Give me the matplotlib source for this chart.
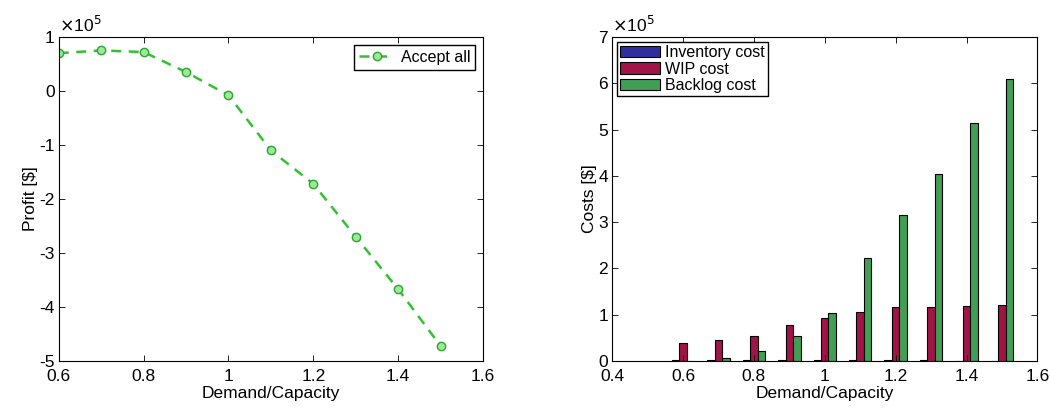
import numpy as np
import matplotlib
matplotlib.use('Agg')
import matplotlib.pyplot as plt
from matplotlib.ticker import FuncFormatter

plt.rcParams['font.family'] = ['Liberation Sans', 'DejaVu Sans']
plt.rcParams['font.size'] = 12.5
plt.rcParams['axes.unicode_minus'] = False

# Data (costs / profit in $)
ratio = [0.6, 0.7, 0.8, 0.9, 1.0, 1.1, 1.2, 1.3, 1.4, 1.5]
profit = [0.70e5, 0.75e5, 0.72e5, 0.35e5, -0.08e5, -1.10e5, -1.72e5, -2.70e5, -3.67e5, -4.72e5]
inventory_cost = [0.025e5, 0.025e5, 0.03e5, 0.03e5, 0.025e5, 0.02e5, 0.015e5, 0.015e5, 0.01e5, 0.01e5]
wip_cost = [0.38e5, 0.45e5, 0.55e5, 0.77e5, 0.93e5, 1.07e5, 1.17e5, 1.16e5, 1.19e5, 1.21e5]
backlog_cost = [0.01e5, 0.07e5, 0.22e5, 0.55e5, 1.03e5, 2.22e5, 3.15e5, 4.05e5, 5.15e5, 6.10e5]

fig = plt.figure(figsize=(10.5, 4.15), dpi=100)

def style_axes(ax):
    ax.tick_params(direction='in', top=True, right=True, length=4, width=0.6)
    ax.tick_params(axis='x', pad=6)
    ax.tick_params(axis='y', pad=3)
    for s in ax.spines.values():
        s.set_linewidth(0.8)
    # MATLAB-style exponent label
    ax.yaxis.set_major_formatter(FuncFormatter(lambda v, p: f'{v / 1e5:g}'))
    ax.text(0.0, 1.005, r'$\times$10$^5$', transform=ax.transAxes, ha='left', va='bottom',
            fontsize=12.5)

# Left: profit
ax1 = fig.add_axes([0.056, 0.13, 0.404, 0.781])
ax1.plot(ratio, profit, linestyle='--', color='#33c033', linewidth=1.8, marker='o',
         markersize=6, markerfacecolor='#9be89b', markeredgecolor='#2aa82a',
         dashes=(4, 3), label='Accept all')
ax1.set_xlim(0.6, 1.6)
ax1.set_ylim(-5e5, 1e5)
ax1.set_xticks([0.6, 0.8, 1.0, 1.2, 1.4, 1.6])
ax1.set_xticklabels(['0.6', '0.8', '1', '1.2', '1.4', '1.6'])
style_axes(ax1)
ax1.set_xlabel('Demand/Capacity', labelpad=1)
ax1.set_ylabel('Profit [$]', labelpad=1)
ax1.legend(loc='upper right', fancybox=False, edgecolor='black', framealpha=1,
           handlelength=2.2, borderpad=0.3, handletextpad=0.4, fontsize=11.5)

# Right: costs
ax2 = fig.add_axes([0.583, 0.13, 0.405, 0.781])
x = np.array(ratio)
w = 0.021
ax2.bar(x - w, inventory_cost, width=w, color='#2e2e9c', edgecolor='black', linewidth=0.8, label='Inventory cost')
ax2.bar(x, wip_cost, width=w, color='#a01448', edgecolor='black', linewidth=0.8, label='WIP cost')
ax2.bar(x + w, backlog_cost, width=w, color='#419e55', edgecolor='black', linewidth=0.8, label='Backlog cost')
ax2.set_xlim(0.4, 1.6)
ax2.set_ylim(0, 7e5)
ax2.set_xticks([0.4, 0.6, 0.8, 1.0, 1.2, 1.4, 1.6])
ax2.set_xticklabels(['0.4', '0.6', '0.8', '1', '1.2', '1.4', '1.6'])
style_axes(ax2)
ax2.set_xlabel('Demand/Capacity', labelpad=1)
ax2.set_ylabel('Costs [$]', labelpad=1)
ax2.legend(loc='upper left', fancybox=False, edgecolor='black', framealpha=1,
           borderpad=0.2, handletextpad=0.3, labelspacing=0.1, handlelength=2.5,
           borderaxespad=0.3, fontsize=11.5)

fig.savefig('out.png', dpi=100)
